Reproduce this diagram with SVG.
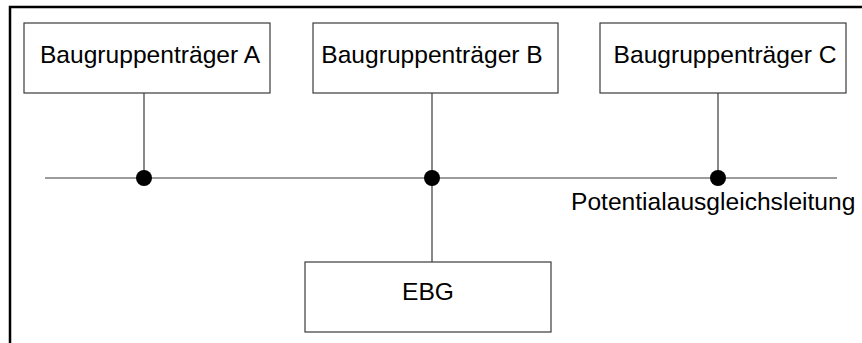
<svg xmlns="http://www.w3.org/2000/svg" width="862" height="343" viewBox="0 0 862 343">
  <style>
    .box { fill: #ffffff; stroke: #3a3a3a; stroke-width: 1.2; }
    .lbl { font-family: "Liberation Sans", Arial, sans-serif; font-size: 24.6px; fill: #000000; }
    .wire { stroke: #3a3a3a; stroke-width: 1.2; fill: none; }
    .dot { fill: #000000; }
  </style>
  <rect width="862" height="343" fill="#ffffff"/>
  <!-- enclosing frame, open at the right and bottom -->
  <path d="M10 343 V7 H862" fill="none" stroke="#000000" stroke-width="2.5"/>

  <g id="connectors">
    <line class="wire" x1="45" y1="178" x2="837" y2="178"/>
    <line class="wire" x1="144" y1="93" x2="144" y2="178"/>
    <line class="wire" x1="432" y1="93" x2="432" y2="262"/>
    <line class="wire" x1="718" y1="93" x2="718" y2="178"/>
    <circle class="dot" cx="144" cy="178" r="8"/>
    <circle class="dot" cx="432" cy="178" r="8"/>
    <circle class="dot" cx="718" cy="178" r="8"/>
    <text class="lbl" x="571" y="210" font-size="24.2">Potentialausgleichsleitung</text>
  </g>

  <g id="rack-a">
    <rect class="box" x="24" y="23" width="246" height="70"/>
    <text class="lbl" x="150" y="63" text-anchor="middle">Baugruppenträger A</text>
  </g>
  <g id="rack-b">
    <rect class="box" x="313" y="23" width="245" height="70"/>
    <text class="lbl" x="432" y="63" text-anchor="middle">Baugruppenträger B</text>
  </g>
  <g id="rack-c">
    <rect class="box" x="600" y="23" width="246" height="70"/>
    <text class="lbl" x="725" y="63" text-anchor="middle">Baugruppenträger C</text>
  </g>
  <g id="ebg">
    <rect class="box" x="305" y="262" width="246" height="70"/>
    <text class="lbl" x="428" y="300" text-anchor="middle">EBG</text>
  </g>
</svg>
